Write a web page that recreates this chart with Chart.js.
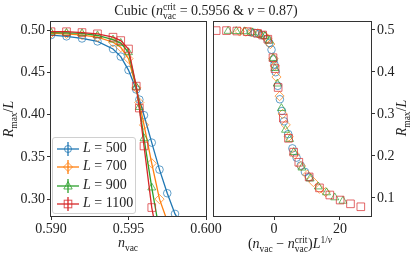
<!DOCTYPE html>
<html>
<head>
<meta charset="utf-8">
<script src="https://cdn.jsdelivr.net/npm/chart.js"></script>
<style>
  body { margin: 0; background: #fff; }
  #wrap { position: relative; width: 415px; height: 258px; overflow: hidden; font-family: "Liberation Serif", serif; color: #222; }
  canvas { position: absolute; left: 0; top: 0; }
  .txt { position: absolute; white-space: nowrap; font-size: 14px; line-height: 1; }
  .ss { display: inline-block; vertical-align: -0.38em; font-size: 0.68em; line-height: 0.95; text-align: left; }
  .ss span { display: block; }
  sub, sup { font-size: 0.68em; line-height: 0; }
  #legend { position: absolute; left: 52px; top: 137px; width: 82px; height: 75px; border: 1px solid #d0d0d0; border-radius: 3px; background: rgba(255,255,255,0.85); }
  .row { position: absolute; left: 4px; height: 14px; font-size: 14px; line-height: 14px; }
  .row svg { vertical-align: middle; margin-right: 3px; }
</style>
</head>
<body>
<div id="wrap">
  <canvas id="leftChart" width="415" height="258"></canvas>
  <canvas id="rightChart" width="415" height="258"></canvas>

  <div class="txt" id="title" style="left:0; width:412px; text-align:center; top:3px;">Cubic (<i>n</i><span class="ss"><span>crit</span><span>vac</span></span> = 0.5956 &amp; <i>ν</i> = 0.87)</div>
  <div class="txt" style="left:78px; width:100px; text-align:center; top:236px;"><i>n</i><sub>vac</sub></div>
  <div class="txt" style="left:220px; width:140px; text-align:center; top:236px;">(<i>n</i><sub>vac</sub> − <i>n</i><span class="ss"><span>crit</span><span>vac</span></span>)<i>L</i><sup>1/<i>ν</i></sup></div>
  <div class="txt" style="left:-21px; width:60px; text-align:center; top:112px; transform:rotate(-90deg);"><i>R</i><sub>max</sub>/<i>L</i></div>
  <div class="txt" style="left:372px; width:60px; text-align:center; top:111px; transform:rotate(-90deg);"><i>R</i><sub>max</sub>/<i>L</i></div>

  <div id="legend"></div>
</div>

<script>
// simulation data
const nVac = [0.590, 0.591, 0.592, 0.593, 0.594, 0.5945, 0.595, 0.5955, 0.5957, 0.596,
              0.5965, 0.597, 0.5975, 0.598, 0.599, 0.600, 0.601, 0.602, 0.603, 0.604];

const sizes = [500, 700, 900, 1100];

const r500  = [0.4945, 0.493, 0.4905, 0.487, 0.478, 0.469, 0.453, 0.430, 0.418, 0.3995,
               0.367, 0.335, 0.307, 0.2825, 0.252, 0.218, 0.196, 0.177, 0.162, 0.149];
const r700  = [0.4965, 0.496, 0.4945, 0.492, 0.486, 0.480, 0.4665, 0.432, 0.4145, 0.388,
               0.3425, 0.300, 0.274, 0.246, 0.204, 0.176, 0.155, 0.138, 0.122, 0.114];
const r900  = [0.4975, 0.497, 0.4965, 0.494, 0.489, 0.485, 0.474, 0.433, 0.409, 0.372,
               0.3136, 0.262, 0.240, 0.209, 0.172, 0.146, 0.127, 0.113, 0.101, 0.093];
const r1100 = [0.4985, 0.4985, 0.4975, 0.496, 0.492, 0.488, 0.478, 0.434, 0.408, 0.363,
               0.290, 0.242, 0.209, 0.185, 0.150, 0.124, 0.107, 0.095, 0.086, 0.079];

const nCrit = 0.5956;
const nu = 0.87;

const leftXTicks = [0.590, 0.595, 0.600];
const leftYTicks = [0.30, 0.35, 0.40, 0.45, 0.50];
const rightXTicks = [0, 20];
const rightYTicks = [0.1, 0.2, 0.3, 0.4, 0.5];

const series = [r500, r700, r900, r1100];
const colors = ['31,119,180', '255,127,14', '44,160,44', '214,39,40'];
const markers = ['circle', 'rectRot', 'triangle', 'rect'];
const radii = [3.8, 4.6, 4.6, 5.4];

const font = { family: '"Liberation Serif", serif', size: 14 };
const frameClr = '#333';

// box round the plot area, like matplotlib spines
const framePlugin = {
    id: 'frame',
    afterDraw: function (chart) {
        const a = chart.chartArea;
        const ctx = chart.ctx;
        ctx.save();
        ctx.strokeStyle = frameClr;
        ctx.lineWidth = 1;
        ctx.strokeRect(Math.round(a.left) - 0.5, Math.round(a.top) - 0.5,
                       Math.round(a.right - a.left) + 1, Math.round(a.bottom - a.top) + 1);
        ctx.restore();
    }
};

function makeTicks(list) {
    return function (axis) {
        axis.ticks = list.map(function (v) { return { value: v }; });
    };
}

function axisOpts(min, max, list, digits, pos) {
    return {
        type: 'linear',
        position: pos,
        min: min,
        max: max,
        afterBuildTicks: makeTicks(list),
        afterFit: function (scale) {
            if (pos === 'bottom') scale.height = 20; else scale.width = 40;
        },
        border: { display: false },
        grid: { drawOnChartArea: false, drawTicks: true, tickLength: 4, color: frameClr, tickWidth: 1 },
        ticks: {
            font: font,
            color: '#222',
            padding: pos === 'bottom' ? 1 : 2,
            autoSkip: false,
            maxRotation: 0,
            callback: function (v) { return Number(v).toFixed(digits); }
        }
    };
}

var leftSets = [];
var rightSets = [];
for (var i = 0; i < sizes.length; i++) {
    var scaleF = Math.pow(sizes[i], 1 / nu);
    var pts = [];
    var scaled = [];
    for (var j = 0; j < nVac.length; j++) {
        pts.push({ x: nVac[j], y: series[i][j] });
        scaled.push({ x: (nVac[j] - nCrit) * scaleF, y: series[i][j] });
    }
    var common = {
        label: 'L = ' + sizes[i],
        pointStyle: markers[i],
        pointRadius: radii[i],
        pointBorderWidth: 1,
        pointBorderColor: 'rgba(' + colors[i] + ',0.7)',
        pointBackgroundColor: 'rgba(255,255,255,0)',
        order: sizes.length - i,
        clip: 0
    };
    leftSets.push(Object.assign({}, common, {
        data: pts,
        borderColor: 'rgb(' + colors[i] + ')',
        borderWidth: 1.3,
        tension: 0,
        showLine: true
    }));
    rightSets.push(Object.assign({}, common, {
        data: scaled,
        showLine: false
    }));
}

const baseOpts = {
    responsive: false,
    devicePixelRatio: 1,
    animation: false,
    events: [],
    plugins: { legend: { display: false }, tooltip: { enabled: false } }
};

new Chart(document.getElementById('leftChart'), {
    type: 'scatter',
    data: { datasets: leftSets },
    options: Object.assign({}, baseOpts, {
        layout: { padding: { left: 11, right: 209, top: 22, bottom: 22 } },
        scales: {
            x: axisOpts(0.590, 0.600, leftXTicks, 3, 'bottom'),
            y: axisOpts(0.28, 0.51, leftYTicks, 2, 'left')
        }
    }),
    plugins: [framePlugin]
});

new Chart(document.getElementById('rightChart'), {
    type: 'scatter',
    data: { datasets: rightSets },
    options: Object.assign({}, baseOpts, {
        layout: { padding: { left: 214, right: 4, top: 22, bottom: 22 } },
        scales: {
            x: axisOpts(-18.2, 29.4, rightXTicks, 0, 'bottom'),
            y: axisOpts(0.057, 0.519, rightYTicks, 1, 'right')
        }
    }),
    plugins: [framePlugin]
});

// legend with line, marker and error bar, as matplotlib draws it
var shapes = [
    '<circle cx="11" cy="7" r="3.5" />',
    '<polygon points="11,2.5 15.5,7 11,11.5 6.5,7" />',
    '<polygon points="11,2.5 15.2,10 6.8,10" />',
    '<rect x="7.2" y="3.2" width="7.6" height="7.6" />'
];
var legendHtml = '';
var rowTops = [3, 21, 40, 58];
for (var k = 0; k < sizes.length; k++) {
    var c = 'rgb(' + colors[k] + ')';
    legendHtml += '<div class="row" style="top:' + rowTops[k] + 'px">' +
        '<svg width="23" height="14">' +
        '<line x1="0" y1="7" x2="22" y2="7" stroke="' + c + '" stroke-width="1.3" />' +
        '<line x1="11" y1="0" x2="11" y2="14" stroke="' + c + '" stroke-width="1.3" />' +
        '<g fill="none" stroke="rgba(' + colors[k] + ',0.8)" stroke-width="1">' + shapes[k] + '</g>' +
        '</svg><i>L</i> = ' + sizes[k] + '</div>';
}
document.getElementById('legend').innerHTML = legendHtml;
</script>
</body>
</html>
